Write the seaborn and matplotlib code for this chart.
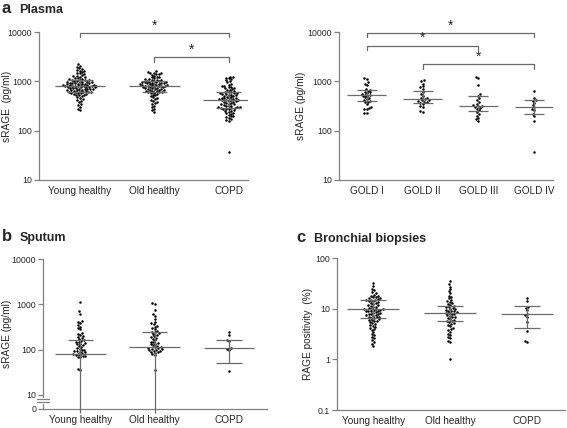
import numpy as np
import pandas as pd
import matplotlib.pyplot as plt
import seaborn as sns
from matplotlib.ticker import NullLocator
import matplotlib.transforms as mtransforms

sns.set_style('ticks')
plt.rcParams['font.family'] = ['Liberation Sans', 'DejaVu Sans']

# ---- data ----
groups = ['Young healthy', 'Old healthy', 'COPD']
gold = ['GOLD I', 'GOLD II', 'GOLD III', 'GOLD IV']

plasma_young = [2200, 2050, 1950, 1850, 1750, 1700, 1650, 1600, 1550, 1500, 1450, 1400,
                1350, 1300, 1280, 1250, 1200, 1180, 1150, 1120, 1100, 1080, 1060, 1050,
                1040, 1020, 1000, 990, 980, 970, 960, 950, 940, 930, 920, 910, 900, 890,
                880, 870, 860, 850, 845, 840, 830, 820, 815, 810, 800, 800, 795, 790, 780,
                770, 760, 755, 750, 740, 730, 720, 715, 710, 700, 695, 690, 680, 670, 660,
                655, 650, 640, 630, 620, 615, 610, 600, 595, 590, 580, 570, 560, 550, 540,
                530, 520, 500, 480, 460, 440, 420, 400, 380, 350, 330, 300, 280, 265]
plasma_old = [1600, 1550, 1500, 1480, 1450, 1420, 1400, 1350, 1300, 1250, 1220, 1200,
              1150, 1120, 1100, 1080, 1060, 1050, 1030, 1020, 1000, 990, 980, 970, 960,
              950, 940, 930, 920, 910, 900, 890, 880, 870, 860, 850, 840, 830, 820, 820,
              810, 800, 790, 780, 770, 760, 750, 740, 730, 720, 710, 700, 690, 680, 670,
              660, 650, 640, 630, 620, 610, 600, 590, 580, 560, 540, 520, 500, 480, 460,
              440, 420, 400, 380, 360, 340, 320, 300, 280, 260, 240]
plasma_copd = [1250, 1200, 1180, 1150, 1100, 1050, 1000, 950, 900, 860, 820, 800, 780,
               760, 740, 720, 700, 680, 660, 640, 620, 600, 600, 590, 580, 570, 560, 550,
               540, 530, 520, 510, 500, 490, 480, 470, 460, 455, 450, 440, 430, 420, 420,
               415, 410, 400, 395, 390, 380, 370, 360, 350, 345, 340, 330, 320, 315, 310,
               300, 300, 295, 290, 290, 285, 280, 275, 270, 260, 250, 245, 240, 230, 225,
               220, 210, 200, 195, 190, 180, 170, 165, 160, 37]
plasma_med = [800, 820, 420]
plasma_q1 = [610, 620, 290]
plasma_q3 = [1050, 1000, 600]

gold1 = [1150, 1100, 950, 900, 850, 700, 680, 650, 620, 600, 580, 560, 540, 520, 510,
         500, 480, 460, 440, 420, 400, 390, 380, 350, 300, 290, 280, 270, 230, 225]
gold2 = [1050, 1000, 900, 800, 750, 700, 600, 550, 500, 470, 450, 430, 420, 410, 400,
         390, 380, 370, 350, 320, 300, 250, 235]
gold3 = [1200, 1150, 850, 550, 500, 450, 420, 380, 350, 330, 320, 310, 300, 290, 280,
         260, 240, 220, 200, 180, 170, 160]
gold4 = [650, 460, 420, 400, 360, 330, 300, 280, 260, 220, 200, 160, 37]
gold_med = [520, 430, 310, 295]
gold_q1 = [400, 370, 250, 220]
gold_q3 = [680, 640, 510, 410]

sputum_young = [1150, 700, 620, 420, 400, 380, 350, 320, 300, 280, 230, 220, 210, 200,
                190, 180, 170, 160, 155, 150, 145, 140, 135, 130, 125, 120, 115, 110,
                105, 100, 98, 95, 92, 90, 88, 85, 82, 80, 78, 76, 74, 72, 70, 68, 37, 36]
sputum_old = [1050, 1000, 750, 600, 550, 480, 400, 380, 360, 340, 320, 300, 280, 260,
              250, 240, 230, 220, 210, 200, 190, 180, 170, 160, 150, 145, 140, 135, 130,
              125, 120, 115, 112, 110, 108, 105, 102, 100, 98, 95, 92, 90, 88, 85, 80,
              75, 35]
sputum_copd = [240, 210, 160, 155, 110, 105, 100, 33]
sputum_med = [80, 115, 110]
sputum_q1 = [0, 0, 50]
sputum_q3 = [160, 240, 160]

biopsy_young = [32, 28, 25, 23, 21, 20, 19, 18, 18, 17, 17, 16, 16, 15.5, 15, 15, 14.5,
                14, 14, 13.5, 13, 13, 12.5, 12, 12, 11.5, 11, 11, 10.5, 10, 10, 10, 9.8,
                9.6, 9.4, 9.2, 9, 9, 8.8, 8.6, 8.4, 8.2, 8, 8, 7.8, 7.6, 7.4, 7.2, 7, 7,
                6.8, 6.6, 6.4, 6.2, 6, 6, 5.8, 5.6, 5.4, 5.2, 5, 4.8, 4.6, 4.4, 4.2, 4,
                3.8, 3.5, 3.2, 3, 2.8, 2.6, 2.4, 2.2, 2, 1.8]
biopsy_old = [35, 30, 27, 24, 22, 20, 18, 17, 16, 15, 14, 13.5, 13, 12.5, 12, 11.5, 11,
              11, 10.5, 10, 10, 9.5, 9.2, 9, 8.8, 8.5, 8.3, 8.1, 8, 7.8, 7.5, 7.2, 7,
              6.8, 6.5, 6.3, 6, 5.8, 5.6, 5.4, 5.2, 5, 4.8, 4.5, 4.2, 4, 3.8, 3.5, 3.2,
              3, 2.8, 2.6, 2.3, 2.2, 1.0]
biopsy_copd = [16, 14, 11, 10.5, 9.5, 8, 7.5, 7, 5.5, 3.6, 2.3, 2.2]
biopsy_med = [9.8, 8.1, 8.0]
biopsy_q1 = [6.5, 5.6, 4.2]
biopsy_q3 = [15, 11.5, 11.3]

LINE = '#6a6a6a'
SPINE = '#808080'


def long_df(names, arrays):
    rows = []
    for n, a in zip(names, arrays):
        rows += [(n, v) for v in a]
    return pd.DataFrame(rows, columns=['group', 'value'])


def style_ax(ax, ticks, labels, ylabel, label_x):
    ax.set_yticks(ticks)
    ax.set_yticklabels(labels)
    ax.yaxis.set_minor_locator(NullLocator())
    for s in ['top', 'right']:
        ax.spines[s].set_visible(False)
    for s in ['left', 'bottom']:
        ax.spines[s].set_color(SPINE)
        ax.spines[s].set_linewidth(0.9)
    ax.tick_params(axis='y', length=3.5, width=0.9, color=SPINE, labelsize=6.3, pad=1.5)
    ax.tick_params(axis='x', length=0, labelsize=7.2, pad=4)
    ax.set_xlabel('')
    ax.set_ylabel(ylabel, fontsize=7.3)
    ax.yaxis.set_label_coords(label_x, 0.5)


def summary(ax, med, q1, q3, mw, cw, lower_clip=None):
    for i, (m, a, b) in enumerate(zip(med, q1, q3)):
        ax.hlines(m, i - mw, i + mw, color=LINE, lw=0.9, zorder=3)
        ax.hlines(b, i - cw, i + cw, color=LINE, lw=0.9, zorder=3)
        if a > 0:
            ax.hlines(a, i - cw, i + cw, color=LINE, lw=0.9, zorder=3)
            ax.vlines(i, a, b, color=LINE, lw=0.9, zorder=3)
        else:
            ax.vlines(i, lower_clip, b, color=LINE, lw=0.9, zorder=3, clip_on=False)


def bracket(ax, x1, x2, y, ydrop):
    ax.plot([x1, x1, x2, x2], [ydrop, y, y, ydrop], color=LINE, lw=0.9, clip_on=False)
    ax.text((x1 + x2) / 2, y * 1.02, '*', ha='center', va='bottom', fontsize=10)


fig = plt.figure(figsize=(5.67, 4.28), dpi=100)

# ---- a, left ----
ax1 = fig.add_axes([39 / 567, 1 - 180 / 428, 209 / 567, 148 / 428])
ax1.set_yscale('log')
sns.swarmplot(data=long_df(groups, [plasma_young, plasma_old, plasma_copd]),
              x='group', y='value', order=groups, color='black', size=1.8, ax=ax1, zorder=2)
summary(ax1, plasma_med, plasma_q1, plasma_q3, 0.34, 0.17)
ax1.set_ylim(10, 10000)
ax1.set_xlim(-0.55, 2.26)
style_ax(ax1, [10, 100, 1000, 10000], ['10', '100', '1000', '10000'],
         'sRAGE  (pg/ml)', -0.129)
bracket(ax1, 0, 2, 9550, 7900)
bracket(ax1, 1, 2, 3060, 2500)

# ---- a, right ----
ax2 = fig.add_axes([339 / 567, 1 - 180 / 428, 214 / 567, 148 / 428])
ax2.set_yscale('log')
sns.swarmplot(data=long_df(gold, [gold1, gold2, gold3, gold4]),
              x='group', y='value', order=gold, color='black', size=1.8, ax=ax2, zorder=2)
summary(ax2, gold_med, gold_q1, gold_q3, 0.35, 0.18)
ax2.set_ylim(10, 10000)
ax2.set_xlim(-0.5, 3.34)
style_ax(ax2, [10, 100, 1000, 10000], ['10', '100', '1000', '10000'],
         'sRAGE (pg/ml)', -0.154)
bracket(ax2, 0, 3, 9550, 7900)
bracket(ax2, 0, 2, 5320, 4330)
bracket(ax2, 1, 3, 2230, 1820)

# ---- b ----
ax3 = fig.add_axes([43 / 567, 1 - 409 / 428, 224 / 567, 150 / 428])
ax3.set_yscale('log')
sns.swarmplot(data=long_df(groups, [sputum_young, sputum_old, sputum_copd]),
              x='group', y='value', order=groups, color='black', size=1.8, ax=ax3, zorder=2)
summary(ax3, sputum_med, sputum_q1, sputum_q3, 0.34, 0.17, lower_clip=4.0)
ax3.set_ylim(4.9, 10000)
ax3.set_xlim(-0.5, 2.51)
style_ax(ax3, [4.9, 10, 100, 1000, 10000], ['0', '10', '100', '1000', '10000'],
         'sRAGE (pg/ml)', -0.14)
# axis break between 0 and 10
tr = mtransforms.blended_transform_factory(ax3.transAxes, ax3.transData)
ax3.plot([0, 0], [8.3, 6.9], color='white', lw=2.5, transform=tr, clip_on=False, zorder=5)
for yb in [8.3, 6.9]:
    ax3.plot([-0.025, 0.025], [yb, yb], color=SPINE, lw=0.9, transform=tr,
             clip_on=False, zorder=6)

# ---- c ----
ax4 = fig.add_axes([337 / 567, 1 - 410 / 428, 228 / 567, 152 / 428])
ax4.set_yscale('log')
sns.swarmplot(data=long_df(groups, [biopsy_young, biopsy_old, biopsy_copd]),
              x='group', y='value', order=groups, color='black', size=1.8, ax=ax4, zorder=2)
summary(ax4, biopsy_med, biopsy_q1, biopsy_q3, 0.34, 0.17)
ax4.set_ylim(0.1, 100)
ax4.set_xlim(-0.47, 2.49)
style_ax(ax4, [0.1, 1, 10, 100], ['0.1', '1', '10', '100'],
         'RAGE positivity  (%)', -0.105)

# ---- panel titles ----
fig.text(2 / 567, 1 - 13 / 428, 'a', fontsize=12, fontweight='bold', va='baseline')
fig.text(19 / 567, 1 - 13 / 428, 'Plasma', fontsize=9, fontweight='bold', va='baseline')
fig.text(2 / 567, 1 - 241 / 428, 'b', fontsize=12, fontweight='bold', va='baseline')
fig.text(20 / 567, 1 - 241 / 428, 'Sputum', fontsize=9, fontweight='bold', va='baseline')
fig.text(296 / 567, 1 - 242 / 428, 'c', fontsize=12, fontweight='bold', va='baseline')
fig.text(314 / 567, 1 - 242 / 428, 'Bronchial biopsies', fontsize=9, fontweight='bold',
         va='baseline')

fig.savefig('out.png', dpi=100)
